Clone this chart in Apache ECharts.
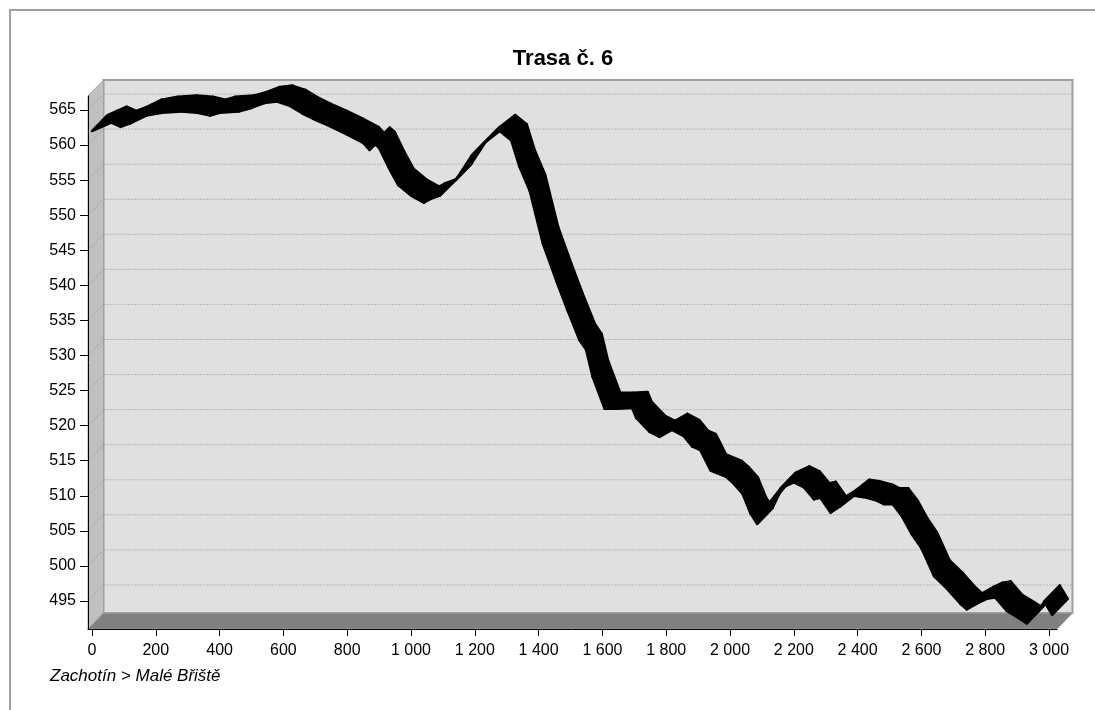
<!DOCTYPE html>
<html>
<head>
<meta charset="utf-8">
<script src="https://cdn.jsdelivr.net/npm/echarts@6/dist/echarts.min.js"></script>
<style>
html,body{margin:0;padding:0;background:#fff;}
#chart{width:1095px;height:710px;}
</style>
</head>
<body>
<div id="chart"></div>
<script>
// ---- data ----
const chartTitle = 'Trasa č. 6';
const routeLabel = 'Zachotín > Malé Břiště';
const distances = [0,30,60,90,120,170,220,280,330,370,400,460,500,540,580,620,660,700,750,800,850,870,885,900,930,960,1000,1040,1060,1090,1140,1190,1230,1278,1314,1340,1372,1413,1455,1490,1528,1549,1569,1607,1646,1693,1706,1748,1779,1818,1855,1882,1907,1939,1988,2010,2039,2064,2085,2106,2158,2200,2232,2263,2283,2315,2346,2388,2420,2460,2482,2510,2540,2570,2600,2640,2679,2722,2742,2781,2805,2831,2867,2910,2930,2960,2985,3010];
const elevations = [562.0,562.6,563.2,562.6,563.1,564.2,564.6,564.8,564.6,564.2,564.6,564.8,565.3,566.0,566.2,565.6,564.5,563.6,562.6,561.5,560.3,559.3,560.2,559.6,556.8,554.3,552.8,551.8,552.3,552.8,555.0,558.5,560.3,562.0,560.7,556.9,553.5,546.0,540.7,536.5,532.2,530.8,527.0,522.4,522.4,522.5,521.1,519.1,518.4,519.4,518.5,517.0,516.5,513.6,512.7,511.8,510.3,507.5,506.0,508.0,511.0,511.9,511.2,509.5,509.7,507.6,508.5,510.0,509.8,509.3,508.8,508.8,507.0,504.5,502.5,498.5,496.8,494.6,493.8,494.8,495.3,495.5,493.6,492.4,491.8,493.3,494.9,493.0];
const xTicks = [0,200,400,600,800,1000,1200,1400,1600,1800,2000,2200,2400,2600,2800,3000];
const yTicks = [495,500,505,510,515,520,525,530,535,540,545,550,555,560,565];

// ---- axis limits & 3D depth (style) ----
const X_MIN = -12.5, X_MAX = 3025, Y_MIN = 491, Y_MAX = 567;
const DEPTH = [15.5, -16];
const FONT = '"Liberation Sans", Arial, sans-serif';

const segments = [];
for (let i = 0; i < distances.length - 1; i++) {
  segments.push([distances[i], elevations[i], distances[i+1], elevations[i+1]]);
}

function fmtThousands(v) {
  const s = String(Math.round(v));
  return s.replace(/\B(?=(\d{3})+(?!\d))/g, ' ');
}

function renderFrame(params, api) {
  const fbl = api.coord([X_MIN, Y_MIN]);
  const ftr = api.coord([X_MAX, Y_MAX]);
  const dx = DEPTH[0], dy = DEPTH[1];
  const ch = [];
  ch.push({type:'rect', shape:{x: fbl[0]+dx, y: ftr[1]+dy, width: ftr[0]-fbl[0], height: fbl[1]-ftr[1]},
    style:{fill:'#e0e0e0', stroke:'#a0a0a0', lineWidth:2}});
  ch.push({type:'polygon', shape:{points:[[fbl[0], ftr[1]],[fbl[0]+dx, ftr[1]+dy],[fbl[0]+dx, fbl[1]+dy],[fbl[0], fbl[1]]]},
    style:{fill:'#c0c0c0', stroke:'#a0a0a0', lineWidth:1}});
  ch.push({type:'polygon', shape:{points:[[fbl[0], fbl[1]],[ftr[0], fbl[1]],[ftr[0]+dx, fbl[1]+dy],[fbl[0]+dx, fbl[1]+dy]]},
    style:{fill:'#808080', stroke:'#a0a0a0', lineWidth:1}});
  yTicks.forEach(v => {
    const p = api.coord([X_MIN, v]);
    ch.push({type:'line', shape:{x1:p[0]+dx+1, y1:p[1]+dy, x2:ftr[0]+dx-1, y2:p[1]+dy},
      style:{stroke:'#8c8c8c', lineWidth:1, lineDash:[1,2]}});
    ch.push({type:'line', shape:{x1:p[0], y1:p[1], x2:p[0]+dx, y2:p[1]+dy},
      style:{stroke:'#8c8c8c', lineWidth:1, lineDash:[1,2]}});
  });
  return {type:'group', children: ch};
}

function renderRibbon(params, api) {
  const p0 = api.coord([api.value(0), api.value(1)]);
  const p1 = api.coord([api.value(2), api.value(3)]);
  const dx = DEPTH[0], dy = DEPTH[1];
  return {
    type:'polygon',
    shape:{points:[p0, p1, [p1[0]+dx, p1[1]+dy], [p0[0]+dx, p0[1]+dy]]},
    style:{fill:'#000', stroke:'#000', lineWidth:2.5, lineJoin:'round'}
  };
}

const chart = echarts.init(document.getElementById('chart'), null, {renderer:'canvas'});
chart.setOption({
  animation: false,
  backgroundColor: '#fff',
  title: {
    text: chartTitle,
    left: 558, top: 43, textAlign: 'center',
    textStyle: {fontFamily: FONT, fontSize: 22, fontWeight: 'bold', color: '#000'}
  },
  graphic: [
    {type:'rect', shape:{x:10, y:10, width:1100, height:720}, style:{fill:'none', stroke:'#a0a0a0', lineWidth:2}, z:-1},
    {type:'text', left: 50, top: 668, style:{text: routeLabel, font: 'italic 17px ' + FONT, fill:'#000'}}
  ],
  grid: {left: 88, top: 96, width: 969, height: 533, containLabel: false},
  xAxis: {
    type: 'value', min: X_MIN, max: X_MAX, z: 10,
    axisLine: {show: true, onZero: false, lineStyle: {color: '#000', width: 1}},
    axisTick: {show: true, customValues: xTicks, length: 7, lineStyle: {color: '#000'}},
    axisLabel: {customValues: xTicks, margin: 14, color: '#000', fontFamily: FONT, fontSize: 16, formatter: fmtThousands},
    splitLine: {show: false}
  },
  yAxis: {
    type: 'value', min: Y_MIN, max: Y_MAX, z: 10,
    axisLine: {show: true, onZero: false, lineStyle: {color: '#000', width: 1}},
    axisTick: {show: true, customValues: yTicks, length: 8, lineStyle: {color: '#000'}},
    axisLabel: {customValues: yTicks, margin: 12, color: '#000', fontFamily: FONT, fontSize: 16},
    splitLine: {show: false}
  },
  series: [
    {type:'custom', z: 1, silent: true, clip: false, renderItem: renderFrame, data: [[X_MIN, Y_MIN]], encode:{x:0, y:1}},
    {type:'custom', z: 5, silent: true, clip: false, renderItem: renderRibbon, data: segments, encode:{x:[0,2], y:[1,3]}}
  ]
});
</script>
</body>
</html>
